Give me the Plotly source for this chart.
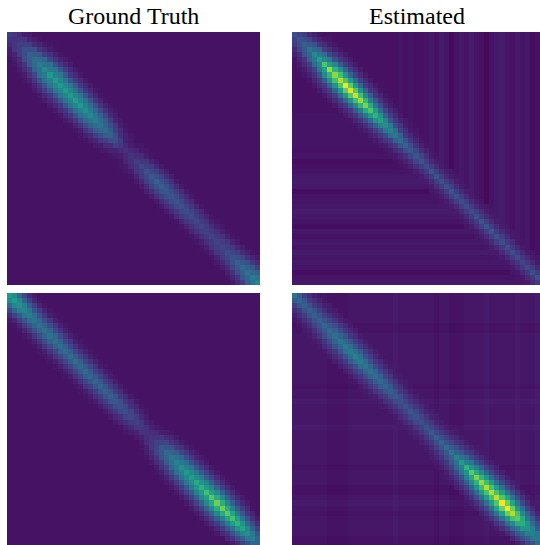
import plotly.graph_objects as go

titles = ["Ground Truth", "Estimated"]

# Band values read per diagonal offset (0-100), indexed by the centre position along the diagonal
a_d0 = [18,14,18,24,30,36,42,48,54,55,54,56,55,56,54,50,47,43,38,34,30,24,15,14,15,18,22,25,28,30,30,28,27,26,25,24,23,21,21,20,20,20,21,24,27,30,34,38,42,46]
a_d1 = [15,15,19,24,29,34,38,42,45,46,46,46,46,46,44,41,39,36,32,29,24,18,12,11,13,15,19,22,24,25,25,24,23,22,21,20,19,18,18,17,17,18,19,21,24,27,30,33,37]
a_d2 = [12,12,15,19,24,28,32,36,38,39,39,39,38,38,37,35,33,31,28,24,19,13,9,8,10,12,15,17,19,20,20,19,18,17,16,16,15,14,14,13,13,14,15,16,18,21,24,27,30]
a_d3 = [8,8,10,12,15,19,22,25,27,28,27,28,27,27,26,25,23,21,19,16,12,9,7,6,7,8,10,11,12,13,13,12,12,11,11,10,10,10,9,9,9,9,10,11,12,14,16,18]
a_d4 = [6,6,7,8,10,12,14,15,17,18,17,18,17,17,17,16,15,14,12,10,8,7,6,5,6,6,6,7,7,8,8,7,7,7,7,6,6,6,6,6,6,6,6,7,8,9,10,12]
a_d5 = [5,5,5,6,7,8,9,10,11,11,11,11,11,11,10,10,9,9,8,7,6,5,5,5,5,5,5,5,5,5,5,5,5,5,5,5,5,5,5,5,5,5,5,5,5,6,7]
a_d6 = [5,5,5,5,5,6,6,6,7,7,7,7,7,7,7,6,6,6,6,5,5]

b_d0 = [24,27,30,38,48,55,72,85,83,88,98,95,92,85,80,72,65,58,50,45,40,35,32,29,27,26,24,27,26,25,26,27,25,24,24,24,25,27,27,27,25,24,24,24,23,22,23,24,25,27]
b_d1 = [20,24,28,33,40,47,56,65,70,72,76,74,70,66,61,55,50,45,40,35,30,26,23,21,20,19,18,19,19,18,19,19,18,18,18,18,18,19,19,18,18,17,17,17,16,16,17,17,18]
b_d2 = [15,18,21,25,30,35,41,47,50,52,54,53,51,47,43,39,35,31,27,23,20,17,16,14,13,13,12,12,12,12,12,12,12,12,12,12,12,12,12,12,12,11,11,11,11,11,11,11,12]
b_d3 = [10,11,13,16,19,22,25,29,31,32,34,33,31,29,27,24,21,19,17,15,13,11,10,9,9,8,8,8,8,8,8,8,8,8,8,8,8,8,8,8,8,7,7,7,7,7,7,7]
b_d4 = [7,8,9,10,12,13,15,17,18,19,20,20,18,17,16,15,13,12,11,10,8,7,7,6,6,6,6,6,6,6,6,6,6,6,6,6,6,6,6,6,6,6,6,6,6,6,6,6]
b_d5 = [5,6,6,7,8,9,10,11,11,12,12,12,11,11,10,9,8,8,7,7,6,6,5,5]
b_d6 = [5,5,5,5,6,6,6,7,7,7,7,7,7,7,6,6,6,5]
b_rows = [2,2,2,2,2,2,2,2,2,2,2,2,2,2,2,2,3,3,3,3,3,3,3,2,3,1,2,3,4,5,4,1,3,3,4,5,4,3,1,4,2,4,3,5,3,4,3,1,3,4]
b_cols = [2,2,2,2,2,1,2,3,2,2,2,2,2,2,2,2,2,2,2,2,2,3,2,3,2,2,3,4,2,5,3,0,3,4,3,5,3,2,0,3,4,5,3,2,4,3,4,1,2,3]

c_d0 = [55,55,50,46,42,38,37,37,38,37,36,35,35,35,34,34,33,33,32,31,30,28,26,24,22,20,17,14,15,20,28,34,40,45,50,54,56,60,64,70,74,78,78,74,70,64,58,50,42,32]
c_d1 = [48,46,43,39,36,33,32,31,31,31,30,29,29,29,28,28,27,27,26,26,25,24,22,20,18,16,14,13,15,20,26,31,36,40,44,47,49,52,54,57,60,62,61,58,55,51,46,40,33]
c_d2 = [36,34,32,29,27,25,24,23,23,23,22,22,21,21,21,21,20,20,19,19,18,17,16,14,13,11,10,9,12,16,21,25,29,33,36,38,40,42,44,46,47,47,46,44,41,38,34,30,26]
c_d3 = [24,22,20,19,18,16,16,15,15,15,15,14,14,14,14,14,14,13,13,13,12,12,11,10,9,8,7,7,9,12,15,18,21,24,26,27,28,29,30,31,31,31,30,29,27,25,23,20]
c_d4 = [12,11,11,10,10,10,9,9,9,9,9,9,9,9,9,9,8,8,8,8,8,7,7,7,6,6,5,5,6,8,10,12,14,16,17,18,19,20,20,20,20,20,20,19,18,16,14,12]
c_d5 = [7,7,7,6,6,6,6,6,6,6,6,6,6,6,6,6,6,6,6,5,5,5,5,5,5,5,5,5,5,6,7,8,9,10,10,11,11,12,12,12,12,12,12,11,11,10,8]
c_d6 = [5,5,5,5,5,5,5,5,5,5,5,5,5,5,5,5,5,5,5,5,5,5,5,5,5,5,5,5,5,5,5,5,6,6,7,7,7,7,7,7,7,7,7,7,7]

d_d0 = [38,33,30,30,30,31,33,35,37,39,42,43,45,42,38,37,36,34,32,30,28,25,25,27,26,25,26,28,30,32,35,38,45,55,65,75,80,85,88,88,90,98,98,88,75,62,52,45,40,36]
d_d1 = [29,27,25,25,25,26,28,30,31,33,35,36,37,35,32,31,30,28,27,25,23,21,21,22,21,20,21,22,24,26,28,31,37,44,52,60,65,69,71,71,73,78,78,71,61,52,44,39,34]
d_d2 = [19,19,18,18,19,20,21,23,24,25,26,27,28,26,24,23,22,21,20,18,17,16,15,16,15,15,15,16,17,19,21,24,28,33,39,45,49,52,54,55,56,58,58,53,47,40,34,29,26]
d_d3 = [13,13,13,13,13,14,15,16,17,17,18,18,19,18,17,16,15,15,14,13,12,11,11,11,10,10,10,11,12,13,15,17,20,23,26,30,33,35,36,37,38,39,39,36,32,28,24,21]
d_d4 = [9,9,9,9,9,9,10,10,11,11,12,12,12,12,11,11,10,10,9,9,8,8,8,8,8,8,8,8,8,9,10,11,13,15,17,19,20,22,23,23,23,24,24,22,20,18,15,13]
d_d5 = [6,6,6,6,7,7,7,7,7,8,8,8,8,8,7,7,7,7,7,7,6,6,6,6,6,6,6,6,6,7,7,8,9,10,11,12,13,14,14,14,14,15,14,13,11,10,8]
d_d6 = [5,5,5,5,5,5,5,5,5,5,5,5,5,5,5,5,5,5,5,5,5,5,5,5,5,5,5,5,5,5,6,6,6,7,7,8,8,9,9,9,9,9,8,8,7]
d_rows = [3,3,3,3,3,3,2,2,3,3,3,3,3,3,3,3,3,3,2,3,3,4,3,3,3,3,4,3,3,3,3,3,3,3,2,3,3,3,2,2,3,4,3,2,3,3,3,3,2,2]
d_cols = [3,3,3,3,3,3,3,2,2,2,2,3,3,3,3,3,3,3,3,3,4,3,3,3,3,3,3,3,2,3,3,2,2,2,3,3,3,3,4,3,3,3,3,3,4,3,3,3,4,3]

flat_rows = [2.5] * 50
flat_cols = [2.5] * 50

N = 50


def build(bands, rows, cols, split):
    if split:
        z = [[2.5 + (rows[i] if j <= i else cols[j]) for j in range(N)] for i in range(N)]
    else:
        z = [[rows[i] + cols[j] for j in range(N)] for i in range(N)]
    for k, band in enumerate(bands):
        for c, v in enumerate(band):
            i = c - k // 2
            j = i + k
            if 0 <= i and j < N:
                z[i][j] = max(z[i][j], v)
                z[j][i] = max(z[j][i], v)
    return z


panels = [
    build([a_d0, a_d1, a_d2, a_d3, a_d4, a_d5, a_d6], flat_rows, flat_cols, False),
    build([b_d0, b_d1, b_d2, b_d3, b_d4, b_d5, b_d6], b_rows, b_cols, True),
    build([c_d0, c_d1, c_d2, c_d3, c_d4, c_d5, c_d6], flat_rows, flat_cols, False),
    build([d_d0, d_d1, d_d2, d_d3, d_d4, d_d5, d_d6], d_rows, d_cols, False),
]

W, H = 540, 545
CELL = 253 / N
boxes = [(7, 260, 32, 285), (292, 545, 32, 285), (7, 260, 293, 546), (292, 545, 293, 546)]

fig = go.Figure()
for n, (z, (x0, x1, y0, y1)) in enumerate(zip(panels, boxes), start=1):
    suffix = "" if n == 1 else str(n)
    fig.add_trace(go.Heatmap(z=z, colorscale="Viridis", zmin=0, zmax=100, showscale=False,
                             zsmooth=False,
                             xaxis="x" + suffix, yaxis="y" + suffix, hoverinfo="skip"))
    cx = max(0, x1 - W) / CELL
    cy = max(0, y1 - H) / CELL
    fig.layout["xaxis" + suffix] = dict(domain=[x0 / W, min(x1, W) / W], range=[-0.5, N - 0.5 - cx],
                                        visible=False, anchor="y" + suffix)
    fig.layout["yaxis" + suffix] = dict(domain=[1 - min(y1, H) / H, 1 - y0 / H], range=[N - 0.5 - cy, -0.5],
                                        visible=False, anchor="x" + suffix)

for text, cx in zip(titles, [133.5, 417]):
    fig.add_annotation(text=text, x=cx / W, y=1 - 15.5 / H, xref="paper", yref="paper",
                       xanchor="center", yanchor="middle", showarrow=False,
                       font=dict(family="Liberation Serif", size=24, color="black"))

fig.update_layout(width=W, height=H, margin=dict(l=0, r=0, t=0, b=0),
                  paper_bgcolor="white", plot_bgcolor="white")
fig.write_html("out.html", config={"displayModeBar": False},
               post_script="document.body.style.margin='0';document.body.style.overflow='hidden';")
